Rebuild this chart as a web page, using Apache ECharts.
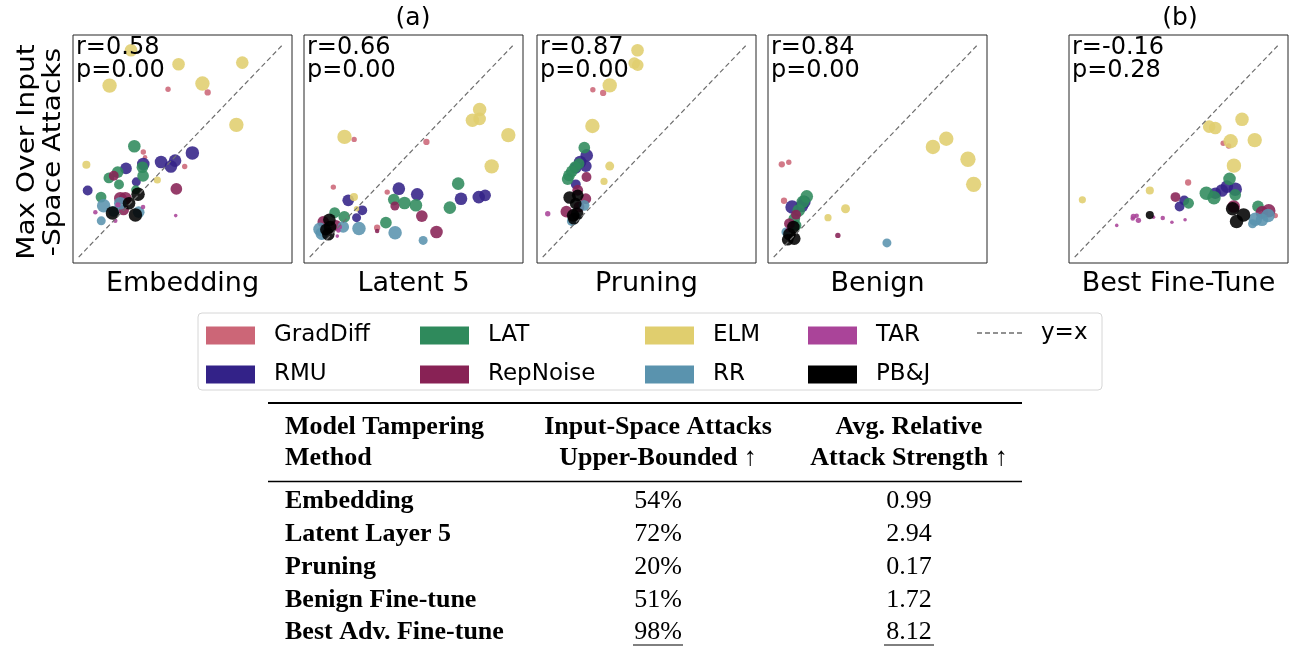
<!DOCTYPE html>
<html><head><meta charset="utf-8">
<script src="https://cdn.jsdelivr.net/npm/echarts@6/dist/echarts.min.js"></script>
<style>html,body{margin:0;padding:0;background:#fff}#c{width:1290px;height:653px}</style>
</head><body><div id="c"></div>
<script>
// ---- data (normalized axis units; third value = marker weight) ----
const methods = ['GradDiff','RMU','LAT','RepNoise','ELM','RR','TAR','PB&J'];
const panelLabels = ['Embedding','Latent 5','Pruning','Benign','Best Fine-Tune'];
const rValues = ['r=0.58','r=0.66','r=0.87','r=0.84','r=-0.16'];
const pValues = ['p=0.00','p=0.00','p=0.00','p=0.00','p=0.28'];
const diag = [[0.026,0.026],[0.962,0.962]];

const embedding = {
  GradDiff: [[0.434,0.762,6],[0.615,0.748,7],[0.321,0.487,6],[0.329,0.464,5],[0.510,0.423,6]],
  RMU: [[0.545,0.483,15],[0.402,0.443,14],[0.466,0.449,14],[0.447,0.423,14],[0.242,0.415,13],[0.321,0.434,14],[0.067,0.318,11],[0.289,0.356,10]],
  LAT: [[0.280,0.512,14],[0.317,0.420,13],[0.320,0.382,13],[0.204,0.399,13],[0.164,0.373,12],[0.210,0.344,11],[0.128,0.289,12],[0.286,0.321,10]],
  RepNoise: [[0.186,0.383,11],[0.472,0.325,13],[0.216,0.284,14],[0.239,0.284,14],[0.231,0.233,12]],
  ELM: [[0.265,0.933,14],[0.482,0.872,14],[0.773,0.879,14],[0.167,0.778,16],[0.591,0.787,16],[0.746,0.606,16],[0.061,0.431,9],[0.385,0.364,8]],
  RR: [[0.140,0.251,15],[0.216,0.262,14],[0.300,0.223,13],[0.129,0.185,10],[0.186,0.226,12]],
  TAR: [[0.102,0.223,5],[0.205,0.255,6],[0.320,0.246,5],[0.469,0.208,4],[0.193,0.185,5]],
  'PB&J': [[0.297,0.302,15],[0.256,0.262,14],[0.180,0.219,15],[0.285,0.211,15]]
};
const latent5 = {
  GradDiff: [[0.229,0.542,6],[0.559,0.531,7],[0.134,0.333,6],[0.380,0.311,6],[0.334,0.155,7]],
  RMU: [[0.433,0.326,14],[0.517,0.301,14],[0.717,0.282,14],[0.798,0.289,14],[0.827,0.297,13],[0.202,0.275,13],[0.266,0.231,11],[0.240,0.199,10]],
  LAT: [[0.704,0.348,14],[0.666,0.243,14],[0.410,0.278,13],[0.459,0.263,14],[0.511,0.253,14],[0.140,0.221,12],[0.184,0.202,13],[0.374,0.177,13]],
  RepNoise: [[0.415,0.250,10],[0.538,0.206,13],[0.605,0.136,14],[0.334,0.140,5],[0.088,0.180,13],[0.146,0.165,12]],
  ELM: [[0.802,0.673,15],[0.769,0.626,15],[0.802,0.632,14],[0.933,0.561,16],[0.857,0.424,16],[0.185,0.553,16],[0.228,0.289,9],[0.240,0.238,6]],
  RR: [[0.251,0.151,15],[0.416,0.133,15],[0.544,0.099,10],[0.179,0.158,13],[0.073,0.148,15],[0.081,0.129,14]],
  TAR: [[0.157,0.143,5],[0.152,0.118,4],[0.164,0.158,5]],
  'PB&J': [[0.116,0.190,14],[0.119,0.158,14],[0.111,0.126,14],[0.100,0.146,13]]
};
const pruning = {
  GradDiff: [[0.255,0.760,6],[0.302,0.746,7]],
  RMU: [[0.227,0.472,14],[0.197,0.443,14],[0.223,0.425,13],[0.177,0.417,13],[0.177,0.345,11]],
  LAT: [[0.216,0.506,13],[0.192,0.436,12],[0.174,0.421,13],[0.159,0.402,13],[0.146,0.384,13],[0.140,0.368,13]],
  RepNoise: [[0.226,0.377,11],[0.186,0.319,12],[0.223,0.282,12],[0.134,0.225,13],[0.192,0.246,12]],
  ELM: [[0.459,0.933,14],[0.444,0.877,13],[0.460,0.868,13],[0.332,0.779,16],[0.253,0.601,16],[0.332,0.425,10],[0.306,0.358,8]],
  RR: [[0.215,0.253,12],[0.159,0.184,11],[0.177,0.202,11]],
  TAR: [[0.049,0.216,6]],
  'PB&J': [[0.149,0.287,14],[0.186,0.297,13],[0.177,0.260,13],[0.165,0.209,14],[0.184,0.216,14],[0.168,0.194,13]]
};
const benign = {
  GradDiff: [[0.063,0.433,7],[0.095,0.442,6],[0.073,0.273,7]],
  RMU: [[0.110,0.246,15],[0.166,0.268,14],[0.155,0.250,14]],
  LAT: [[0.177,0.292,14],[0.159,0.268,14],[0.140,0.231,14],[0.120,0.194,13],[0.128,0.165,12]],
  RepNoise: [[0.319,0.121,6],[0.128,0.212,11],[0.098,0.173,12]],
  ELM: [[0.814,0.545,16],[0.753,0.509,16],[0.913,0.455,17],[0.939,0.345,17],[0.354,0.238,10],[0.274,0.199,8]],
  RR: [[0.543,0.088,10],[0.082,0.136,10]],
  TAR: [[0.090,0.146,5]],
  'PB&J': [[0.116,0.158,14],[0.098,0.126,14],[0.120,0.107,14],[0.090,0.102,13]]
};
const bestFineTune = {
  GradDiff: [[0.704,0.525,6],[0.729,0.513,6],[0.544,0.353,7],[0.942,0.208,6]],
  RMU: [[0.721,0.335,14],[0.759,0.324,15],[0.698,0.318,14],[0.668,0.306,13],[0.526,0.274,11],[0.505,0.248,11]],
  LAT: [[0.733,0.369,14],[0.627,0.306,15],[0.662,0.286,15],[0.759,0.299,13],[0.546,0.262,12],[0.863,0.248,13]],
  RepNoise: [[0.486,0.289,11],[0.752,0.248,14],[0.912,0.229,15],[0.881,0.222,14]],
  ELM: [[0.790,0.630,15],[0.640,0.598,14],[0.668,0.592,14],[0.738,0.534,16],[0.848,0.539,16],[0.753,0.427,16],[0.369,0.318,9],[0.061,0.277,8]],
  RR: [[0.851,0.192,15],[0.909,0.208,15],[0.881,0.190,14],[0.838,0.172,10]],
  TAR: [[0.294,0.204,6],[0.309,0.207,5],[0.317,0.187,6],[0.291,0.195,5],[0.386,0.201,4],[0.428,0.197,5],[0.470,0.179,4],[0.530,0.190,4],[0.218,0.165,4]],
  'PB&J': [[0.747,0.238,15],[0.797,0.211,15],[0.765,0.182,15],[0.369,0.210,9]]
};
const panelData = [embedding, latent5, pruning, benign, bestFineTune];

// table content
const tableHeader = [['Model Tampering','Method'],['Input-Space Attacks','Upper-Bounded \u2191'],['Avg. Relative','Attack Strength \u2191']];
const tableMethods = ['Embedding','Latent Layer 5','Pruning','Benign Fine-tune','Best Adv. Fine-tune'];
const tableBounded = ['54%','72%','20%','51%','98%'];
const tableStrength = ['0.99','2.94','0.17','1.72','8.12'];

// ---- styling / layout ----
const colors = {GradDiff:'#CC6677',RMU:'#332288',LAT:'#2F8A5C',RepNoise:'#882255',ELM:'#E0CE6E',RR:'#5A93AE',TAR:'#AA4499','PB&J':'#000000'};
const gridLeft = [73,304,537,768,1069];
const gridW = 219, gridTop = 35, gridH = 228;
const sans = 'DejaVu Sans';

const grids = [], xAxes = [], yAxes = [], series = [], graphics = [];
gridLeft.forEach((l,i)=>{
  grids.push({left:l, top:gridTop, width:gridW, height:gridH, show:true, borderColor:'#262626', borderWidth:1, backgroundColor:'#fff', containLabel:false});
  xAxes.push({gridIndex:i, type:'value', min:0, max:1, axisLine:{show:false}, axisTick:{show:false}, axisLabel:{show:false}, splitLine:{show:false},
    name:panelLabels[i], nameLocation:'middle', nameGap:6, nameTextStyle:{fontFamily:sans, fontSize:27, color:'#000', verticalAlign:'top', lineHeight:30}});
  yAxes.push({gridIndex:i, type:'value', min:0, max:1, axisLine:{show:false}, axisTick:{show:false}, axisLabel:{show:false}, splitLine:{show:false}});
  methods.forEach(m=>{
    series.push({type:'scatter', name:m, xAxisIndex:i, yAxisIndex:i, data:panelData[i][m],
      symbolSize:v=>v[2]*0.9, itemStyle:{color:colors[m], opacity:0.88}, z:2, animation:false});
  });
  series.push({type:'line', name:'y=x', xAxisIndex:i, yAxisIndex:i, data:diag, symbol:'none', silent:true,
    lineStyle:{color:'#6e6e6e', width:1.2, type:[5,3]}, itemStyle:{color:'#6e6e6e'}, z:3, animation:false});
  graphics.push({type:'text', left:l+3, top:gridTop+1, z:10, style:{text:rValues[i]+'\n'+pValues[i], font:'24px "DejaVu Sans"', fill:'#000', lineHeight:23}});
});

// titles and y label
graphics.push({type:'text', x:413, y:18, style:{text:'(a)', font:'25px "DejaVu Sans"', fill:'#000', textAlign:'center', textVerticalAlign:'middle'}});
graphics.push({type:'text', x:1180, y:18, style:{text:'(b)', font:'25px "DejaVu Sans"', fill:'#000', textAlign:'center', textVerticalAlign:'middle'}});
graphics.push({type:'text', x:40, y:152, rotation:Math.PI/2, scaleX:1.12, scaleY:1,
  style:{text:'Max Over Input\n-Space Attacks', font:'25px "DejaVu Sans"', fill:'#000', textAlign:'center', textVerticalAlign:'middle', lineHeight:26}});

// legend frame
graphics.push({type:'rect', shape:{x:198, y:313, width:904, height:77, r:4}, style:{fill:'#fff', stroke:'#d6d6d6', lineWidth:1}, z:-1});

// table
const tRuleX1 = 268, tRuleX2 = 1022;
graphics.push({type:'line', shape:{x1:tRuleX1, y1:403, x2:tRuleX2, y2:403}, style:{stroke:'#000', lineWidth:2}});
graphics.push({type:'line', shape:{x1:tRuleX1, y1:481.5, x2:tRuleX2, y2:481.5}, style:{stroke:'#000', lineWidth:1.3}});
const colX = [285, 658, 909];
const headY = [427, 458];
const tFont = 26;
tableHeader.forEach((h,c)=>{
  h.forEach((t,r)=>{
    graphics.push({type:'text', x:colX[c], y:headY[r], style:{text:t, font:'bold '+tFont+'px "Liberation Serif"', fill:'#000', textAlign:c===0?'left':'center', textVerticalAlign:'middle'}});
  });
});
const rowY = [501, 534, 567, 600, 632];
tableMethods.forEach((t,r)=>{
  graphics.push({type:'text', x:colX[0], y:rowY[r], style:{text:t, font:'bold '+tFont+'px "Liberation Serif"', fill:'#000', textAlign:'left', textVerticalAlign:'middle'}});
  graphics.push({type:'text', x:colX[1], y:rowY[r], style:{text:tableBounded[r], font:tFont+'px "Liberation Serif"', fill:'#000', textAlign:'center', textVerticalAlign:'middle'}});
  graphics.push({type:'text', x:colX[2], y:rowY[r], style:{text:tableStrength[r], font:tFont+'px "Liberation Serif"', fill:'#000', textAlign:'center', textVerticalAlign:'middle'}});
});
// underline best row values
graphics.push({type:'line', shape:{x1:633, y1:645, x2:683, y2:645}, style:{stroke:'#000', lineWidth:1}});
graphics.push({type:'line', shape:{x1:884, y1:645, x2:934, y2:645}, style:{stroke:'#000', lineWidth:1}});

// legends (column-wise, 2 rows)
const legendCols = [['GradDiff','RMU'],['LAT','RepNoise'],['ELM','RR'],['TAR','PB&J']];
const legendLeft = [206, 420, 645, 808];
const legends = legendCols.map((names,k)=>({
  show:true, orient:'vertical', left:legendLeft[k], top:324, padding:0, itemGap:16,
  itemWidth:49, itemHeight:18, selectedMode:false,
  data: names.map(n=>({name:n, icon:'rect', itemStyle:{color:colors[n], opacity:1}})),
  textStyle:{fontFamily:sans, fontSize:23, color:'#000', padding:[0,0,0,14], lineHeight:18}
}));
// y=x legend entry (dashed sample + label)
graphics.push({type:'line', shape:{x1:977, y1:333, x2:1023, y2:333}, style:{stroke:'#6e6e6e', lineWidth:1.3, lineDash:[5,3]}});
graphics.push({type:'text', x:1041, y:333, style:{text:'y=x', font:'23px "DejaVu Sans"', fill:'#000', textVerticalAlign:'middle'}});

const chart = echarts.init(document.getElementById('c'), null, {renderer:'canvas'});
chart.setOption({
  animation:false,
  backgroundColor:'#fff',
  grid:grids, xAxis:xAxes, yAxis:yAxes, series:series,
  legend:legends,
  graphic:graphics
});
</script></body></html>
